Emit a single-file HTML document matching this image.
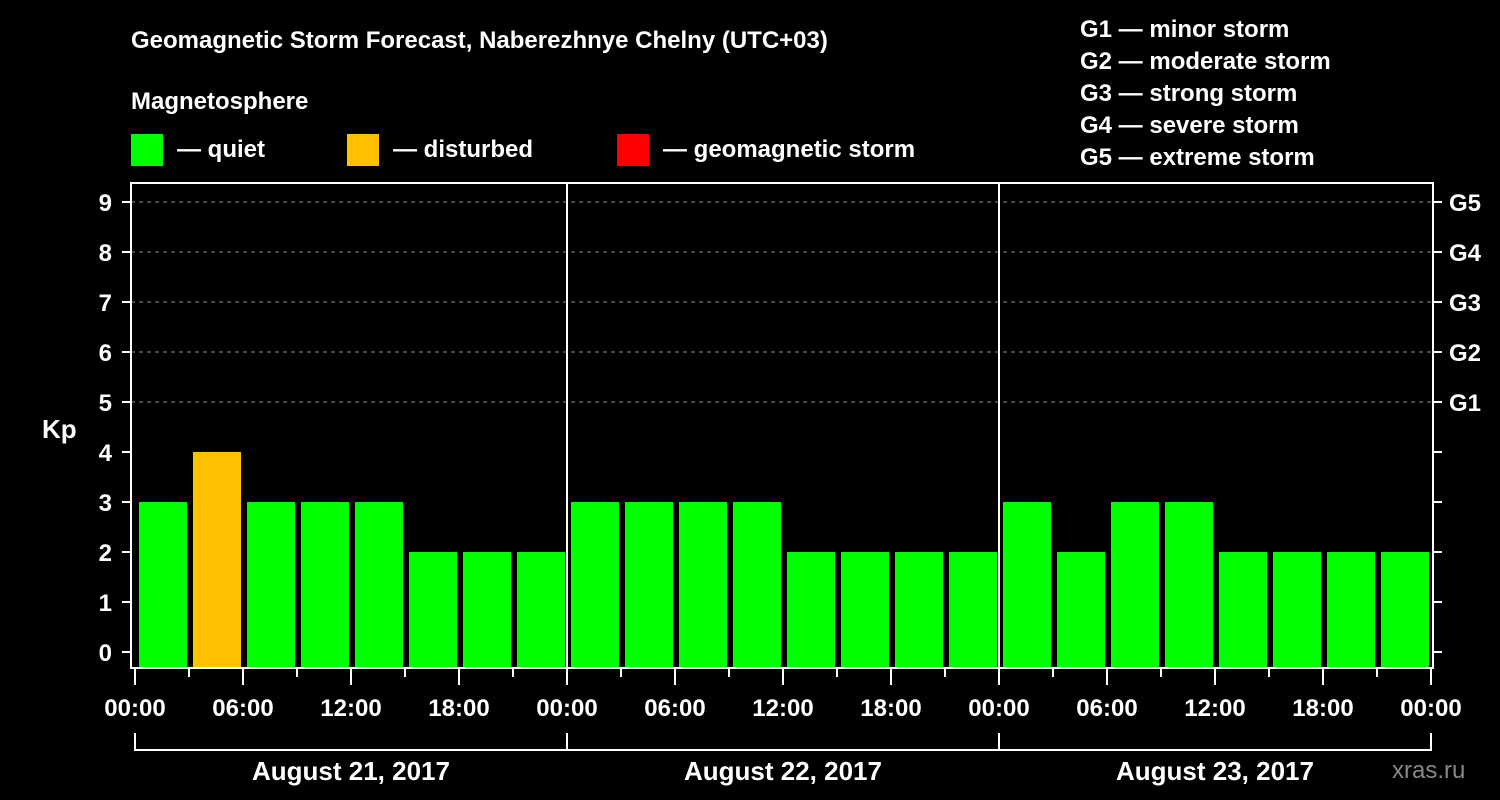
<!DOCTYPE html>
<html><head><meta charset="utf-8"><style>
html,body{margin:0;padding:0;background:#000;}
svg{display:block;font-family:"Liberation Sans",Arial,sans-serif;font-weight:bold;}
</style></head><body>
<svg id="chart" width="1500" height="800" xmlns="http://www.w3.org/2000/svg">
<rect width="1500" height="800" fill="#000"/>
<text x="131" y="48" fill="#fff" font-size="24">Geomagnetic Storm Forecast, Naberezhnye Chelny (UTC+03)</text>
<text x="131" y="109" fill="#fff" font-size="24">Magnetosphere</text>
<g><rect x="131" y="134" width="32" height="32" fill="#00ff00"/><text x="177" y="157" fill="#fff" font-size="24">— quiet</text></g>
<g><rect x="347" y="134" width="32" height="32" fill="#ffc000"/><text x="393" y="157" fill="#fff" font-size="24">— disturbed</text></g>
<g><rect x="617" y="134" width="32" height="32" fill="#ff0000"/><text x="663" y="157" fill="#fff" font-size="24">— geomagnetic storm</text></g>
<g fill="#fff" font-size="24">
<text x="1080" y="37">G1 — minor storm</text>
<text x="1080" y="69">G2 — moderate storm</text>
<text x="1080" y="101">G3 — strong storm</text>
<text x="1080" y="133">G4 — severe storm</text>
<text x="1080" y="165">G5 — extreme storm</text>
</g>
<text x="42" y="438" fill="#fff" font-size="26">Kp</text>
<g id="grid"></g><g id="bars"></g><g id="axes"></g>
<text x="1392" y="778" fill="#888" font-size="24" font-weight="normal" style="font-weight:normal">xras.ru</text>
</svg>
<script>
const days = ["August 21, 2017","August 22, 2017","August 23, 2017"];
const kpValues = [3,4,3,3,3,2,2,2, 3,3,3,3,2,2,2,2, 3,2,3,3,2,2,2,2];
const yTicks = [0,1,2,3,4,5,6,7,8,9];
const gLabels = ["G1","G2","G3","G4","G5"];
const gLevels = [5,6,7,8,9];
const xTickLabels = ["00:00","06:00","12:00","18:00"];

const NS="http://www.w3.org/2000/svg";
const X0=135, SLOT=54, Y0=652, UNIT=50, LEFT=131, RIGHT=1433, TOP=183, BOT=668;
const xs = i => X0 + i*SLOT;
const ys = v => Y0 - v*UNIT;
function mk(tag, attrs, parent){const e=document.createElementNS(NS,tag);for(const k in attrs)e.setAttribute(k,attrs[k]);parent.appendChild(e);return e;}
const grid=document.getElementById('grid'), bars=document.getElementById('bars'), axes=document.getElementById('axes');

gLevels.forEach((v,i)=>{
  const l=mk('line',{x1:LEFT,x2:RIGHT,y1:ys(v),y2:ys(v),stroke:'#888','stroke-width':1,'stroke-dasharray':'4,4'},grid);
  
  
});

kpValues.forEach((v,i)=>{
  const color = v>=5 ? '#ff0000' : (v>=4 ? '#ffc000' : '#00ff00');
  const r=mk('rect',{x:xs(i)+4,y:ys(v),width:48,height:BOT-ys(v),fill:color},bars);
  
  
});

const frame=mk('rect',{x:LEFT,y:TOP,width:RIGHT-LEFT,height:BOT-TOP,fill:'none',stroke:'#fff','stroke-width':2},axes);


for(let d=1; d<days.length; d++){
  const l=mk('line',{x1:xs(d*8),x2:xs(d*8),y1:TOP,y2:BOT,stroke:'#fff','stroke-width':2},axes);
  
  
}
yTicks.forEach(v=>{
  mk('line',{x1:122,x2:LEFT,y1:ys(v),y2:ys(v),stroke:'#fff','stroke-width':2},axes);
  mk('line',{x1:RIGHT,x2:1442,y1:ys(v),y2:ys(v),stroke:'#fff','stroke-width':2},axes);
  const t=mk('text',{x:112,y:ys(v)+9,fill:'#fff','font-size':24,'text-anchor':'end'},axes);
  t.textContent=v;
  
  
});
gLabels.forEach((g,i)=>{
  const t=mk('text',{x:1449,y:ys(gLevels[i])+9,fill:'#fff','font-size':24},axes);
  t.textContent=g;
  
  
});
for(let i=0;i<=kpValues.length;i++){
  const major=i%2===0;
  mk('line',{x1:xs(i),x2:xs(i),y1:BOT,y2:major?685:677,stroke:'#fff','stroke-width':2},axes);
  if(major){
    const t=mk('text',{x:xs(i),y:716,fill:'#fff','font-size':24,'text-anchor':'middle'},axes);
    t.textContent=xTickLabels[(i/2)%4];
    
    
  }
}
days.forEach((d,i)=>{
  const a=xs(i*8), b=xs((i+1)*8);
  mk('path',{d:`M${a} 733 V750 H${b} V733`,stroke:'#fff','stroke-width':2,fill:'none'},axes);
  const t=mk('text',{x:(a+b)/2,y:780,fill:'#fff','font-size':26,'text-anchor':'middle'},axes);
  t.textContent=d;
  
  
});
</script>
</body></html>
